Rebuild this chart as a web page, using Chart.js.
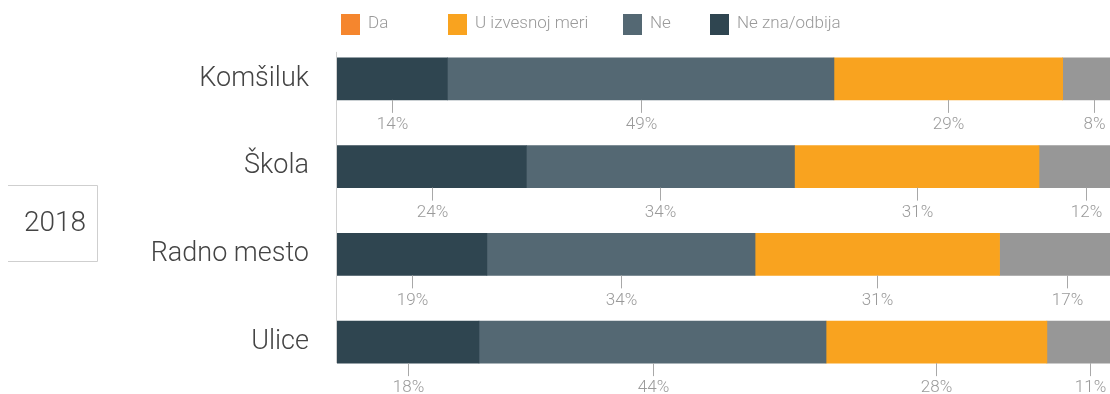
<!DOCTYPE html>
<html>
<head>
<meta charset="utf-8">
<script src="https://cdn.jsdelivr.net/npm/chart.js@4"></script>
<style>
  body { margin: 0; background: #fff; }
  #wrap { width: 1110px; height: 394px; position: relative; }
</style>
</head>
<body>
<div id="wrap"><canvas id="myChart"></canvas></div>
<script>
const categories = ['Komšiluk', 'Škola', 'Radno mesto', 'Ulice'];
const neZna = [14, 24, 19, 18];
const ne = [49, 34, 34, 44];
const uIzvesnoj = [29, 31, 31, 28];
const da = [8, 12, 17, 11];
const legendLabels = ['Da', 'U izvesnoj meri', 'Ne', 'Ne zna/odbija'];
const legendColors = ['#f5862e', '#f9a31f', '#546873', '#2f4550'];
const yearLabel = '2018';

const FONT = 'Roboto, "Open Sans", sans-serif';

// legend squares, year box and value labels under each segment
const extras = {
    id: 'extras',
    afterDraw(chart) {
        const c = chart.ctx;
        const area = chart.chartArea;
        c.save();

        // legend
        const legendX = [341, 448, 623, 710];
        c.font = '300 17px ' + FONT;
        c.textBaseline = 'middle';
        c.textAlign = 'left';
        legendLabels.forEach((txt, i) => {
            c.fillStyle = legendColors[i];
            c.fillRect(legendX[i], 14, 19, 21);
            c.fillStyle = '#9a9a9a';
            c.fillText(txt, legendX[i] + 27, 24);
        });

        // year box (open on the left)
        c.strokeStyle = '#cfcfcf';
        c.lineWidth = 1;
        c.beginPath();
        c.moveTo(8, 185.5);
        c.lineTo(97.5, 185.5);
        c.lineTo(97.5, 261.5);
        c.lineTo(8, 261.5);
        c.stroke();
        c.fillStyle = '#444';
        c.font = '300 28px ' + FONT;
        c.textAlign = 'center';
        c.fillText(yearLabel, 55, 224);

        // segment labels
        let top = Infinity, bottom = -Infinity;
        c.font = '300 17px ' + FONT;
        chart.data.datasets.forEach((ds, di) => {
            const meta = chart.getDatasetMeta(di);
            meta.data.forEach((el, i) => {
                const p = el.getProps(['x', 'y', 'base', 'height'], true);
                const cx = Math.round((p.x + p.base) / 2) + 0.5;
                const yb = p.y + p.height / 2;
                top = Math.min(top, p.y - p.height / 2);
                bottom = Math.max(bottom, yb);
                c.strokeStyle = '#a8a8a8';
                c.beginPath();
                c.moveTo(cx, yb);
                c.lineTo(cx, yb + 13);
                c.stroke();
                c.fillStyle = '#9a9a9a';
                c.fillText(ds.data[i] + '%', cx, yb + 25);
            });
        });

        // axis line
        c.strokeStyle = '#d0d0d0';
        c.beginPath();
        c.moveTo(area.left - 0.5, top - 6);
        c.lineTo(area.left - 0.5, bottom);
        c.stroke();
        c.restore();
    }
};

const ctx = document.getElementById('myChart').getContext('2d');

const data = {
    labels: categories,
    datasets: [
        { label: 'Ne zna/odbija', data: neZna, backgroundColor: '#2f4550' },
        { label: 'Ne', data: ne, backgroundColor: '#546873' },
        { label: 'U izvesnoj meri', data: uIzvesnoj, backgroundColor: '#f9a31f' },
        { label: 'Da', data: da, backgroundColor: '#979797' }
    ]
};

const options = {
    indexAxis: 'y',
    responsive: true,
    maintainAspectRatio: false,
    animation: false,
    layout: { padding: { top: 35, bottom: 8, left: 0, right: 0 } },
    datasets: { bar: { barThickness: 42, borderWidth: 0 } },
    scales: {
        x: {
            stacked: true,
            display: false,
            min: 0,
            max: 98
        },
        y: {
            stacked: true,
            border: { display: false },
            grid: { display: false, drawTicks: false },
            ticks: {
                color: '#444',
                padding: 28,
                font: { family: FONT, size: 27, weight: 300 }
            },
            afterFit(scale) {
                scale.width = 337;
                // label padding would otherwise push the bars inward
                scale.paddingTop = 0;
                scale.paddingBottom = 0;
            }
        }
    },
    plugins: {
        legend: { display: false },
        tooltip: { enabled: false }
    }
};

const myChart = new Chart(ctx, {
    type: 'bar',
    data: data,
    options: options,
    plugins: [extras]
});
</script>
</body>
</html>
